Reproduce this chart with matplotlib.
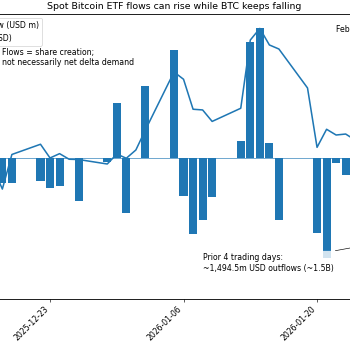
import numpy as np
import pandas as pd
import matplotlib
matplotlib.use("Agg")
import matplotlib.pyplot as plt
import matplotlib.dates as mdates

# daily net flows into spot BTC ETFs (USD m), trading days only
flow_dates = pd.to_datetime([
    "2025-12-18", "2025-12-19", "2025-12-22", "2025-12-23", "2025-12-24",
    "2025-12-26", "2025-12-29", "2025-12-30", "2025-12-31", "2026-01-02",
    "2026-01-05", "2026-01-06", "2026-01-07", "2026-01-08", "2026-01-09",
    "2026-01-12", "2026-01-13", "2026-01-14", "2026-01-15", "2026-01-16",
    "2026-01-20", "2026-01-21", "2026-01-22", "2026-01-23",
])
flows = [-161, -163, -146, -194, -179,
         -279, -23, 353, -353, 466,
         697, -245, -490, -402, -253,
         112, 750, 837, 95, -400,
         -486, -645, -34, -110]

# BTC price (USD), weekdays
btc_dates = pd.bdate_range("2025-12-17", "2026-01-26")
btc_close = [87080, 85500, 87970, 88700, 87720, 88030, 87630, 87610, 87290, 88000,
             87700, 88290, 89720, 93860, 93340, 91200, 91150, 90330, 91270, 96140,
             96970, 95790, 95500, 92720, 88480, 89770, 89360, 89430, 88150]

fig = plt.figure(figsize=(6.25, 6.25), dpi=56)
ax = fig.add_axes([-0.2257, 0.1457, 1.4457, 0.8143])
ax2 = ax.twinx()

ax.bar(flow_dates, flows, width=0.85, color="C0", label="Daily net flow (USD m)")
ax.axhline(0, lw=0.8, color="C0")
ax2.plot(btc_dates, btc_close, lw=2, color="C0", label="BTC price (USD)")

ticks = pd.date_range("2025-12-23", "2026-01-20", freq="14D")
ax.set_xticks(ticks)
ax.xaxis.set_major_formatter(mdates.DateFormatter("%Y-%m-%d"))
plt.setp(ax.get_xticklabels(), rotation=45, ha="right")

x0 = mdates.date2num(pd.Timestamp("2025-12-23"))
ax.set_xlim(x0 - 13.53, x0 + 39.53)
ax.set_ylim(-909, 929)
ax2.set_ylim(77651, 98000)
ax.set_ylabel("Daily net flow (USD m)")
ax2.set_ylabel("BTC price (USD)")

ax.set_title("Spot Bitcoin ETF flows can rise while BTC keeps falling")

ax.text(pd.Timestamp("2025-12-18"), 710, "Flows = share creation;\nnot necessarily net delta demand",
        ha="left", va="top")
ax2.annotate("Prior 4 trading days:\n~1,494.5m USD outflows (~1.5B)",
             xy=(pd.Timestamp("2026-01-30"), 82100),
             xytext=(pd.Timestamp("2026-01-08"), 80920), va="top",
             bbox=dict(boxstyle="round", fc="white", ec="none", alpha=0.8),
             arrowprops=dict(arrowstyle="->", color="black", lw=0.8))
ax2.text(pd.Timestamp("2026-01-22"), 96750, "Feb 2-5: BTC slides further", ha="left")

h1, l1 = ax.get_legend_handles_labels()
h2, l2 = ax2.get_legend_handles_labels()
ax2.legend(h1 + h2, l1 + l2, loc="upper left")

fig.savefig("out.png", dpi=56)
